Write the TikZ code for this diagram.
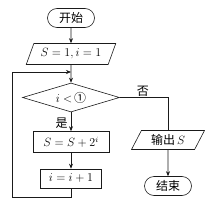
\documentclass[tikz,border=0pt]{standalone}
\usepackage{fontspec}
\newfontfamily\cjk{Noto Sans CJK SC}
\usetikzlibrary{shapes.geometric, shapes.misc, arrows.meta}
\definecolor{lineInk}{HTML}{1A1A1A}
\newcommand{\flowsize}{\fontsize{12}{14}\selectfont}
\tikzset{
  flowline/.style={draw=lineInk, line width=0.6pt},
  arr/.style={flowline, -{Stealth[length=5pt,width=4pt]}},
  term/.style={flowline, rounded rectangle, minimum width=47pt, minimum height=19pt, inner sep=0pt, font=\cjk\flowsize},
  io/.style={flowline, trapezium, trapezium left angle=63, trapezium right angle=117,
             trapezium stretches=true, minimum height=21pt, inner sep=1pt, font=\flowsize},
  proc/.style={flowline, rectangle, minimum height=21pt, inner sep=0pt, font=\flowsize},
  test/.style={flowline, diamond, aspect=3.4, minimum width=97pt, minimum height=29pt, inner sep=0pt, font=\flowsize},
  lbl/.style={font=\cjk\flowsize, inner sep=0pt},
}

\begin{document}
\begin{tikzpicture}[x=1pt, y=-1pt]
  \useasboundingbox (0,0) rectangle (208,203);
  % main column
  \node[term] (start) at (71,18) {开始};
  \node[io, minimum width=90pt] (init) at (71,54) {$S=1,i=1$};
  \node[test] (cond) at (71,97.5) {$i<$\,{\cjk ①}};
  \node[proc, minimum width=76pt] (sum) at (71,142) {$S=S+2^i$};
  \node[proc, minimum width=61pt, minimum height=19pt] (inc) at (71,178.5) {$i=i+1$};
  % exit column
  \node[io, minimum width=73pt, minimum height=19pt] (out) at (168,140) {{\cjk 输出}\,$S$};
  \node[term] (stop) at (168,186) {结束};
  \coordinate (join) at (71,72);
  \coordinate (corner) at (12.5,197);

  \draw[arr] (start) -- (init);
  \draw[arr] (init) -- (cond);
  \draw[arr] (cond) -- node[lbl, pos=0.6, anchor=east, xshift=-3pt]{是} (sum);
  \draw[arr] (sum) -- (inc);
  \draw[arr] (inc.south) |- (corner) |- (join);
  \draw[flowline] (cond.east) -| node[lbl, pos=0.24, above=1pt]{否} (out.north);
  \draw[arr] (out) -- (stop);
\end{tikzpicture}
\end{document}
